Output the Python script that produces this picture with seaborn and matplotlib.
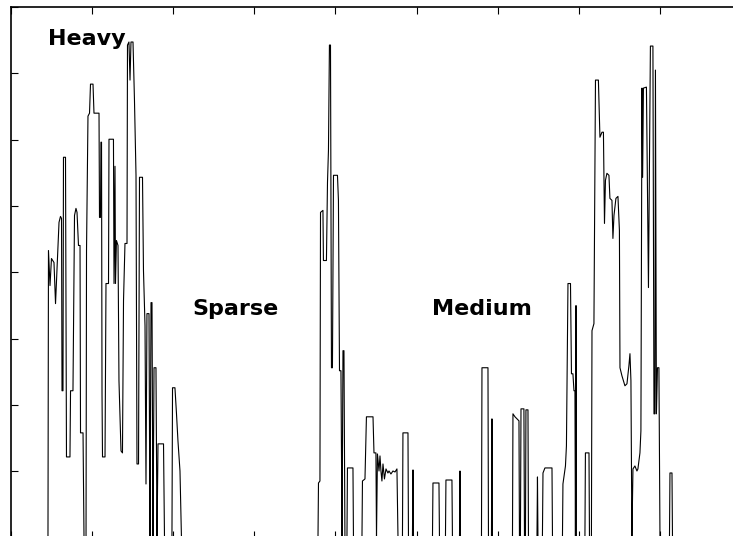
import matplotlib
matplotlib.use("Agg")
import matplotlib.pyplot as plt
import seaborn as sns
import pandas as pd
from matplotlib.ticker import MultipleLocator

# ---- data (time in s, load value) ----
time_s = [
    0.00, 4.57, 4.63, 4.82, 5.00, 5.31, 5.50, 5.68, 5.93, 6.11, 6.24, 6.30, 6.42, 6.48, 6.73,
    6.85, 7.28, 7.35, 7.65, 7.84, 8.02, 8.15, 8.33, 8.52, 8.58, 8.89, 9.01, 9.26, 9.32, 9.50,
    9.69, 9.81, 10.12, 10.24, 10.86, 10.92, 11.04, 11.10, 11.17, 11.23, 11.29, 11.60, 11.72,
    12.03, 12.09, 12.64, 12.71, 12.83, 12.89, 13.01, 13.20, 13.32, 13.57, 13.75, 13.88, 14.06,
    14.31, 14.37, 14.55, 14.68, 14.80, 15.05, 15.23, 15.42, 15.54, 15.73, 15.85, 16.22, 16.34,
    16.53, 16.65, 16.77, 17.02, 17.14, 17.27, 17.39, 17.51, 17.64, 17.88, 18.01, 18.13, 18.81,
    18.93, 19.85, 19.92, 20.22, 20.41, 20.59, 20.84, 21.02,
    37.85, 37.91, 38.09, 38.16, 38.46, 38.52, 38.89, 39.02, 39.14, 39.26, 39.39, 39.51, 39.63,
    39.76, 40.25, 40.37, 40.50, 40.68, 40.81, 40.93, 41.05, 41.17, 41.42, 41.48, 42.16, 42.22,
    43.27, 43.33, 43.64, 43.82, 44.63, 44.75, 44.99, 45.06, 45.18, 45.37, 45.49, 45.61, 45.73,
    45.86, 46.04, 46.23, 46.47, 46.60, 46.84, 47.09, 47.34, 47.58, 47.71, 48.26, 48.32, 48.94,
    49.00, 49.49, 49.56, 49.62, 51.96, 52.02, 52.76, 52.82, 53.56, 53.62, 54.36, 54.42, 55.29,
    55.35, 55.41, 58.00, 58.06, 58.80, 58.86, 59.23, 59.29, 59.35, 61.82, 61.88, 62.13, 62.62,
    62.68, 62.80, 62.87, 63.23, 63.30, 63.42, 63.48, 63.73, 63.79, 64.84, 64.90, 64.96, 65.51,
    65.58, 65.82, 66.69, 66.75, 67.98, 68.04, 68.35, 68.47, 68.66, 68.97, 69.09, 69.27, 69.40,
    69.52, 69.58, 69.65, 69.70, 70.75, 70.81, 71.25, 71.31, 71.55, 71.62, 71.86, 72.05, 72.41,
    72.60, 72.85, 73.03, 73.16, 73.28, 73.46, 73.71, 73.83, 74.08, 74.20, 74.33, 74.57, 74.82,
    75.00, 75.07, 75.31, 75.68, 75.93, 76.17, 76.30, 76.42, 76.54, 76.67, 76.91, 77.16, 77.28,
    77.53, 77.65, 77.78, 77.86, 77.96, 78.33, 78.58, 78.82, 79.13, 79.26, 79.38, 79.44, 79.56,
    79.69, 79.87, 80.00, 81.17, 81.23, 81.48, 81.54, 90.00,
]
load = [
    0.00, 0.00, 43.28, 37.99, 42.07, 41.47, 35.27, 40.56, 47.52, 48.42, 48.12, 22.13, 22.13, 57.34, 57.34,
    12.15, 12.15, 22.13, 22.13, 48.57, 49.63, 49.03, 44.04, 44.04, 15.78, 15.78, 0.00, 0.00, 43.28, 63.54,
    63.99, 68.37, 68.37, 63.99, 63.99, 48.27, 48.27, 59.61, 59.61, 21.67, 12.15, 12.15, 38.30,
    38.30, 60.06, 60.06, 38.30, 55.98, 38.30, 44.79, 44.04, 23.64, 13.06, 12.76, 35.73, 44.34,
    44.34, 74.26, 74.72, 68.98, 74.72, 74.72, 65.95, 54.62, 11.09, 11.09, 54.32, 54.32, 40.26,
    31.95, 8.07, 33.76, 33.76, 0.00, 35.42, 35.42, 0.00, 25.60, 25.60, 0.00, 14.12, 14.12,
    0.00, 0.00, 22.58, 22.58, 18.65, 14.57, 10.03, 0.00,
    0.00, 8.22, 8.52, 49.03, 49.33, 41.77, 41.77, 53.56, 58.40, 74.26, 74.26, 25.60, 25.60,
    54.62, 54.62, 50.84, 25.15, 25.15, 0.00, 28.17, 28.17, 0.00, 0.00, 10.49, 10.49, 0.00,
    0.00, 8.52, 8.83, 18.20, 18.20, 12.76, 12.76, 0.00, 12.60, 10.03, 12.30, 10.03, 8.52,
    11.09, 8.83, 10.34, 9.73, 10.03, 9.58, 10.03, 9.88, 10.34, 0.00, 0.00, 15.78, 15.78,
    0.00, 0.00, 10.19, 0.00, 0.00, 8.22, 8.22, 0.00, 0.00, 8.67, 8.67, 0.00, 0.00,
    10.03, 0.00, 0.00, 25.60, 25.60, 0.00, 0.00, 17.89, 0.00, 0.00, 18.65, 18.20, 17.59,
    0.00, 0.00, 19.40, 19.40, 0.00, 0.00, 19.25, 19.25, 0.00, 0.00, 9.13, 0.00, 0.00,
    9.73, 10.49, 10.49, 0.00, 0.00, 8.07, 10.79, 13.81, 38.30, 38.30, 24.69, 24.69, 22.13,
    22.13, 0.00, 34.97, 0.00, 0.00, 12.76, 12.76, 0.00, 0.00, 31.19, 32.25, 68.98, 68.98,
    60.36, 61.12, 61.12, 47.36, 53.86, 54.92, 54.62, 51.14, 50.84, 45.10, 48.57, 51.14, 51.44,
    46.31, 25.60, 24.39, 22.88, 23.18, 25.90, 27.72, 23.64, 0.00, 10.34, 10.79, 10.03, 10.34,
    12.76, 16.08, 67.77, 54.32, 67.77, 67.92, 37.69, 74.11, 74.11, 18.65, 18.65, 70.49, 18.65,
    25.60, 25.60, 0.00, 0.00, 9.73, 9.73, 0.00, 0.00,
]
label_text = ["Heavy", "Sparse", "Medium"]
label_x = [9.32, 27.68, 58.06]
label_y = [74.2, 33.6, 33.6]

df = pd.DataFrame({"time": time_s, "load": load})

sns.set_theme(style="white")
plt.rcParams["font.family"] = ["DejaVu Sans"]

fig = plt.figure(figsize=(7.33, 5.36), dpi=100)
ax = fig.add_axes([0.01487, -0.0028, 0.9962, 0.98974])

sns.lineplot(data=df, x="time", y="load", sort=False, estimator=None,
             color="black", linewidth=0.8, ax=ax)

ax.set_xlim(0, 90)
ax.set_ylim(0, 80)
ax.xaxis.set_major_locator(MultipleLocator(10))
ax.yaxis.set_major_locator(MultipleLocator(10))
ax.tick_params(direction="in", length=4.8, width=0.8, color="black",
               top=True, bottom=True, left=True, right=True,
               labelbottom=False, labelleft=False)
ax.set_xlabel("")
ax.set_ylabel("")
for name, s in ax.spines.items():
    s.set_visible(True)
    s.set_color("black")
    s.set_linewidth(1.2)
ax.spines["bottom"].set_visible(False)

for txt, x, y in zip(label_text, label_x, label_y):
    ax.text(x, y, txt, ha="center", va="baseline", fontsize=16,
            fontweight="bold", color="black", family=["DejaVu Sans"])

fig.savefig("out.png", dpi=100)
